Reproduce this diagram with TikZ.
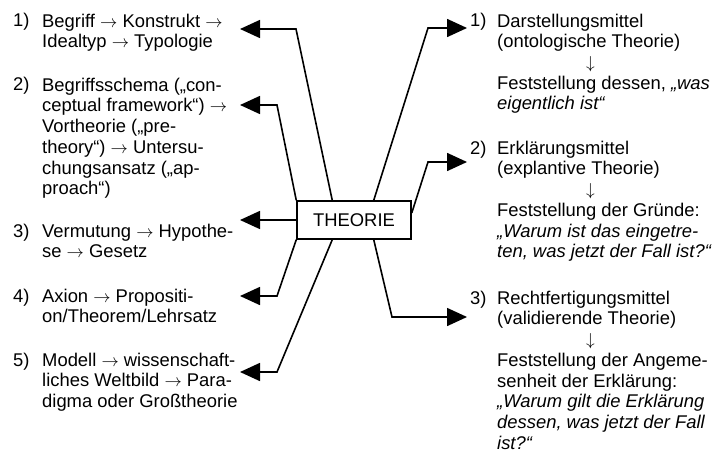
\documentclass[tikz,border=0pt]{standalone}
\usepackage{fontspec}
\setmainfont{Liberation Sans}
\usetikzlibrary{arrows.meta}
\newcommand{\fstrut}{\rule{0pt}{15pt}}
\newcommand{\darr}{\hspace*{89pt}$\downarrow$}
\begin{document}
\begin{tikzpicture}[x=1pt,y=-1pt,
  txt/.style={font=\fontsize{18.4}{20.7}\selectfont},
  lbl/.style={txt, inner sep=0pt, anchor=north west, align=left},
  num/.style={txt, inner sep=0pt, anchor=base west},
  conn/.style={line width=1.6pt, -{Triangle[length=20pt,width=18pt]}},
  thbox/.style={txt, draw, line width=1.5pt, minimum width=114pt, minimum height=38pt, inner sep=0pt}]
\useasboundingbox (0,0) rectangle (715,452);

\node[thbox] (th) at (354,220) {THEORIE};

% left column
\node[num] (l1n) at (13,27) {1)};
\node[lbl] (l1) at (42,12) {\fstrut Begriff $\rightarrow$ Konstrukt $\rightarrow$\\Idealtyp $\rightarrow$ Typologie};
\node[num] (l2n) at (13,91) {2)};
\node[lbl] (l2) at (42,76) {\fstrut Begriffsschema („con-\\ceptual framework“) $\rightarrow$\\Vortheorie („pre-\\theory“) $\rightarrow$ Untersu-\\chungsansatz („ap-\\proach“)};
\node[num] (l3n) at (13,237) {3)};
\node[lbl] (l3) at (42,222) {\fstrut Vermutung $\rightarrow$ Hypothe-\\se $\rightarrow$ Gesetz};
\node[num] (l4n) at (13,302) {4)};
\node[lbl] (l4) at (42,287) {\fstrut Axion $\rightarrow$ Propositi-\\on/Theorem/Lehrsatz};
\node[num] (l5n) at (13,366) {5)};
\node[lbl] (l5) at (42,351) {\fstrut Modell $\rightarrow$ wissenschaft-\\liches Weltbild $\rightarrow$ Para-\\digma oder Großtheorie};

% right column
\node[num] (r1n) at (470,27) {1)};
\node[lbl] (r1) at (497,12) {\fstrut Darstellungsmittel\\(ontologische Theorie)\\\darr\\Feststellung dessen, \textit{„was}\\\textit{eigentlich ist“}};
\node[num] (r2n) at (470,154) {2)};
\node[lbl] (r2) at (497,139) {\fstrut Erklärungsmittel\\(explantive Theorie)\\\darr\\Feststellung der Gründe:\\\textit{„Warum ist das eingetre-}\\\textit{ten, was jetzt der Fall ist?“}};
\node[num] (r3n) at (470,304) {3)};
\node[lbl] (r3) at (497,289) {\fstrut Rechtfertigungsmittel\\(validierende Theorie)\\\darr\\Feststellung der Angeme-\\senheit der Erklärung:\\\textit{„Warum gilt die Erklärung}\\\textit{dessen, was jetzt der Fall}\\\textit{ist?“}};

% arrow tips
\coordinate (tl1) at (240,29);
\coordinate (tl2) at (240,105);
\coordinate (tl3) at (240,220);
\coordinate (tl4) at (240,296);
\coordinate (tl5) at (240,372);
\coordinate (tr1) at (467,28);
\coordinate (tr2) at (467,162);
\coordinate (tr3) at (467,317);

% connectors
\draw[conn] ([xshift=36pt]th.north west) -- (296,29) -- (tl1);
\draw[conn] (th.north west) -- (277,105) -- (tl2);
\draw[conn] (th.west) -- (tl3);
\draw[conn] (th.south west) -- (277,296) -- (tl4);
\draw[conn] ([xshift=36pt]th.south west) -- (277,372) -- (tl5);
\draw[conn] ([xshift=-38pt]th.north east) -- (428,28) -- (tr1);
\draw[conn] ([yshift=7pt]th.east) -- (428,162) -- (tr2);
\draw[conn] ([xshift=-38pt]th.south east) -- (392,317) -- (tr3);
\end{tikzpicture}
\end{document}
